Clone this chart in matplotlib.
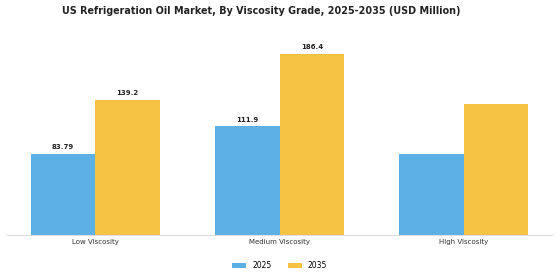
import matplotlib
matplotlib.use("Agg")
import matplotlib.pyplot as plt
import numpy as np

categories = ["Low Viscosity", "Medium Viscosity", "High Viscosity"]
years = ["2025", "2035"]
v2025 = [83.79, 111.9, 83.8]
v2035 = [139.2, 186.4, 135.0]
labels2025 = ["83.79", "111.9", None]
labels2035 = ["139.2", "186.4", None]

BLUE = "#5DB0E4"
YELLOW = "#F6C244"

fig = plt.figure(figsize=(5.6, 2.8), dpi=100)
ax = fig.add_axes([0.0125, 0.161, 0.974, 0.696])

x = np.arange(len(categories))
w = 0.35
b1 = ax.bar(x - w/2, v2025, w, color=BLUE, label=years[0])
b2 = ax.bar(x + w/2, v2035, w, color=YELLOW, label=years[1])

for bars, labs in ((b1, labels2025), (b2, labels2035)):
    for b, lab in zip(bars, labs):
        if lab is None:
            continue
        ax.text(b.get_x() + b.get_width()/2, b.get_height() + 4, lab,
                ha="center", va="bottom", fontsize=5, fontweight="bold", color="#222222")

ax.set_xlim(-0.48, 2.48)
ax.set_ylim(0, 201)
ax.set_xticks(x)
ax.set_xticklabels(categories, fontsize=5.0, color="#333333")
ax.tick_params(axis="x", length=0, pad=3)
ax.set_yticks([])
for s in ("top", "right", "left"):
    ax.spines[s].set_visible(False)
ax.spines["bottom"].set_color("#dddddd")
ax.spines["bottom"].set_linewidth(0.8)

fig.suptitle("US Refrigeration Oil Market, By Viscosity Grade, 2025-2035 (USD Million)",
             x=0.466, y=0.98, fontsize=6.9, fontweight="bold", color="#222222")

ax.legend(loc="upper center", bbox_to_anchor=(0.5, -0.1), ncol=2, frameon=False,
          fontsize=5.5, handlelength=1.8, handleheight=0.6, columnspacing=2.2,
          handletextpad=0.8)

fig.savefig("out.png", dpi=100)
